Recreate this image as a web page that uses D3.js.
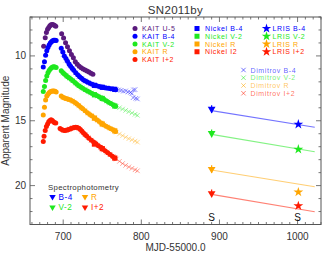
<!DOCTYPE html>
<html><head><meta charset="utf-8">
<script src="https://cdn.jsdelivr.net/npm/d3@7"></script>
<style>body{margin:0;background:#fff}svg{display:block;font-family:"Liberation Sans",Arial,sans-serif}</style>
</head><body><svg id="c" width="334" height="259"></svg>
<script>
// ---------- data ----------
const kaitU = [[675,9.25],[677,8.6],[678.5,8.2],[680,7.95],[681.5,7.8],[683,7.68],[684.5,7.6],[686,7.57],[687.5,7.6],[689,7.65],[690.5,7.72],[698,8.3],[700.5,8.62],[703,8.98],[705.5,9.3],[708,9.6],[710.5,9.9],[713,10.15],[715.5,10.45],[718,10.65],[720.5,10.8],[723,10.92],[725.5,11.0],[728,11.08],[730.5,11.17],[733,11.25],[735.5,11.33],[738,11.42]];
const kaitB = [[674.5,10.85],[676,10.45],[677.5,9.95],[679,9.6],[680.5,9.35],[682,9.15],[683.5,9.0],[685,8.9],[686.5,8.84],[688,8.8],[689.5,8.8],[691,8.82],[697.5,9.4],[699.5,9.7],[701.5,10.0],[703.5,10.2],[705.5,10.42],[707.5,10.62],[709.5,10.8],[711.5,10.95],[713.5,11.1],[716,11.3],[718.5,11.45],[721,11.6],[723.5,11.73],[726,11.85],[728.5,11.94],[731,12.02],[734,12.1],[737,12.18],[740,12.26],[743,12.31],[746,12.36],[749,12.4],[752,12.44],[755,12.47],[758,12.5],[761,12.53],[764,12.56],[767,12.6]];
const kaitV = [[674.5,12.75],[676,12.35],[677.5,11.9],[679,11.55],[680.5,11.3],[682,11.12],[683.5,11.0],[685,10.92],[686.5,10.86],[688,10.84],[689.5,10.86],[691,10.9],[697.5,11.15],[699.5,11.28],[701.5,11.4],[703.5,11.5],[705.5,11.6],[707.5,11.68],[710,11.8],[712.5,11.92],[715,12.05],[717.5,12.18],[720,12.3],[722.5,12.4],[725,12.5],[728,12.6],[731,12.7],[734,12.8],[737,12.9],[740,12.98],[743,13.06],[746,13.14],[749,13.24],[752,13.34],[755,13.45],[758,13.57],[761,13.67],[764,13.77],[767,13.88]];
const kaitR = [[674.5,14.55],[676,13.95],[677.5,13.4],[679,13.1],[680.5,12.95],[682,12.85],[683.5,12.77],[685,12.72],[686.5,12.7],[688,12.7],[689.5,12.73],[691,12.78],[697.5,13.1],[699.5,13.18],[701.5,13.24],[703.5,13.28],[705.5,13.32],[707.5,13.36],[710,13.42],[712.5,13.5],[715,13.6],[717.5,13.7],[720,13.82],[722.5,13.95],[725,14.08],[728,14.22],[731,14.38],[734,14.52],[737,14.64],[740,14.78],[743,14.92],[746,15.06],[749,15.2],[752,15.32],[755,15.43],[758,15.53],[761,15.62],[764,15.7],[767,15.82]];
const kaitI = [[674.5,16.6],[675.5,16.2],[677,15.75],[678.5,15.45],[680,15.25],[681.5,15.08],[683,14.98],[684.5,14.93],[686,14.98],[687.5,15.08],[689,15.15],[690.5,15.18],[696,15.6],[698,15.68],[700,15.74],[702,15.76],[704,15.74],[706,15.7],[708,15.65],[710,15.6],[712,15.55],[714,15.52],[716,15.5],[718,15.52],[720,15.58],[722,15.68],[724,15.8],[726,15.94],[728,16.06],[730,16.18],[733,16.35],[736,16.5],[739,16.64],[742,16.78],[745,16.92],[748,17.05],[751,17.2],[754,17.33],[757,17.47],[760,17.6],[763,17.74],[766,17.88]];

const nickelB = [[740,12.27],[750,12.42],[766,12.58]];
const nickelV = [[740,13.0],[750,13.28],[766,13.86]];
const nickelR = [[740,14.8],[750,15.25],[766,15.78]];
const nickelI = [[740,16.8],[750,17.15],[766,17.88]];

const dimB = [[700,9.9],[704,10.33],[708,10.7],[712,11.0],[716,11.3],[720,11.55],[724,11.78],[728,11.95],[732,12.07],[736,12.17],[740,12.27],[744,12.33],[748,12.4],[752,12.45],[756,12.48],[760,12.52],[764,12.55],[768,12.6],[771,12.62],[774,12.66],[777,12.72],[780,12.7],[783,12.78],[786,12.82],[788,12.9],[790,12.62],[789.5,13.22],[792,12.6],[793,13.27],[795,13.32]];
const dimV = [[700,11.33],[704,11.55],[708,11.72],[712,11.9],[716,12.1],[720,12.3],[724,12.47],[728,12.6],[732,12.74],[736,12.86],[740,12.98],[744,13.1],[748,13.2],[752,13.35],[756,13.48],[760,13.63],[764,13.78],[768,13.9],[772,14.0],[776,14.1],[780,14.2],[784,14.3],[788,14.4],[792,14.5],[795,14.58]];
const dimR = [[700,13.2],[704,13.28],[708,13.36],[712,13.48],[716,13.65],[720,13.82],[724,14.02],[728,14.22],[732,14.43],[736,14.6],[740,14.78],[744,14.97],[748,15.15],[752,15.32],[756,15.47],[760,15.6],[764,15.72],[768,15.88],[772,16.02],[776,16.15],[780,16.27],[784,16.38],[788,16.47],[792,16.57],[795,16.65]];
const dimI = [[700,15.74],[704,15.74],[708,15.65],[712,15.55],[716,15.5],[720,15.58],[724,15.8],[728,16.06],[732,16.3],[736,16.5],[740,16.7],[744,16.88],[748,17.05],[752,17.25],[756,17.42],[760,17.6],[764,17.78],[768,17.95],[772,18.13],[776,18.3],[780,18.44],[784,18.56],[788,18.67],[792,18.78],[795,18.86]];

const specMJD = 890;
const specMag = [14.1, 15.97, 18.73, 20.6];   // B-4, V-2, R, I+2
const specErr = [0.3, 0.3, 0.3, 0.3];
const lrisMJD = 1001;
const lrisMag = [15.27, 17.2, 20.5, 21.56];
const lrisErr = [0.12, 0.12, 0.1, 0.12];
const lineMJD = [890, 1022];
const lineMag = [[14.22, 15.5], [16.05, 17.39], [18.8, 20.09], [20.68, 22.02]];
const sLabelMJD = [890, 1000];

const xTicks = [700, 800, 900, 1000];
const yTicks = [10, 15, 20];

const colors = {U:"#5a1a7d", B:"#0000ff", V:"#1ee81e", R:"#ffa500", I:"#ff1a00"};
const bandColors = [colors.B, colors.V, colors.R, colors.I];

// ---------- chart ----------
const svg = d3.select("#c");
const L = 30, R = 321, T = 17, B = 224.5;
const x = d3.scaleLinear().domain([657.5, 1030]).range([L, R]);
const y = d3.scaleLinear().domain([7, 23]).range([T, B]);
const axisCol = "#555", textCol = "#333";

svg.append("rect").attr("x", L).attr("y", T).attr("width", R - L).attr("height", B - T)
  .attr("fill", "none").attr("stroke", axisCol).attr("stroke-width", 1);

const xMinor = d3.range(660, 1031, 10);
const yMinor = d3.range(7, 23.01, 1);
const tg = svg.append("g").attr("stroke", axisCol).attr("stroke-width", 0.8);
xMinor.forEach(v => {
  const major = v % 100 === 0; const len = major ? 5 : 2.5;
  tg.append("line").attr("x1", x(v)).attr("x2", x(v)).attr("y1", B).attr("y2", B - len);
  tg.append("line").attr("x1", x(v)).attr("x2", x(v)).attr("y1", T).attr("y2", T + len);
});
yMinor.forEach(v => {
  const major = v % 5 === 0; const len = major ? 5 : 2.5;
  tg.append("line").attr("y1", y(v)).attr("y2", y(v)).attr("x1", L).attr("x2", L + len);
  tg.append("line").attr("y1", y(v)).attr("y2", y(v)).attr("x1", R).attr("x2", R - len);
});
svg.append("g").selectAll("text").data(xTicks).join("text")
  .attr("x", d => x(d)).attr("y", 240).attr("text-anchor", "middle")
  .attr("font-size", 10).attr("fill", textCol).text(d => d);
svg.append("g").selectAll("text").data(yTicks).join("text")
  .attr("x", 26).attr("y", d => y(d) + 3.5).attr("text-anchor", "end")
  .attr("font-size", 10).attr("fill", textCol).text(d => d);

svg.append("text").attr("x", (L + R) / 2).attr("y", 13.5).attr("text-anchor", "middle")
  .attr("font-size", 11.5).attr("fill", textCol).attr("letter-spacing", 0.3).text("SN2011by");
svg.append("text").attr("x", (L + R) / 2).attr("y", 251).attr("text-anchor", "middle")
  .attr("font-size", 10).attr("fill", textCol).text("MJD-55000.0");
svg.append("text").attr("transform", `translate(9,${(T + B) / 2}) rotate(-90)`).attr("text-anchor", "middle")
  .attr("font-size", 10).attr("fill", textCol).text("Apparent Magnitude");

const plot = svg.append("g");

lineMag.forEach((m, i) => {
  plot.append("line").attr("x1", x(lineMJD[0])).attr("y1", y(m[0]))
    .attr("x2", x(lineMJD[1])).attr("y2", y(m[1]))
    .attr("stroke", bandColors[i]).attr("stroke-opacity", 0.55).attr("stroke-width", 1.1);
});

function crosses(data, col) {
  const g = plot.append("g").attr("stroke", col).attr("stroke-opacity", 0.45).attr("stroke-width", 0.9);
  const s = 2.3;
  data.forEach(d => {
    const cx = x(d[0]), cy = y(d[1]);
    g.append("line").attr("x1", cx - s).attr("y1", cy - s).attr("x2", cx + s).attr("y2", cy + s);
    g.append("line").attr("x1", cx - s).attr("y1", cy + s).attr("x2", cx + s).attr("y2", cy - s);
  });
}
crosses(dimB, colors.B); crosses(dimV, colors.V); crosses(dimR, colors.R); crosses(dimI, colors.I);

function circles(data, col) {
  plot.append("g").selectAll("circle").data(data).join("circle")
    .attr("cx", d => x(d[0])).attr("cy", d => y(d[1])).attr("r", 2.5).attr("fill", col);
}
circles(kaitU, colors.U); circles(kaitB, colors.B); circles(kaitV, colors.V); circles(kaitR, colors.R); circles(kaitI, colors.I);

function squares(data, col) {
  plot.append("g").selectAll("rect").data(data).join("rect")
    .attr("x", d => x(d[0]) - 2.6).attr("y", d => y(d[1]) - 2.6).attr("width", 5.2).attr("height", 5.2).attr("fill", col);
}
squares(nickelB, colors.B); squares(nickelV, colors.V); squares(nickelR, colors.R); squares(nickelI, colors.I);

const triDown = d3.symbol().type(d3.symbolTriangle).size(26);
specMag.forEach((m, i) => {
  plot.append("line").attr("x1", x(specMJD)).attr("x2", x(specMJD))
    .attr("y1", y(m - specErr[i])).attr("y2", y(m + specErr[i]))
    .attr("stroke", bandColors[i]).attr("stroke-width", 1.2);
  plot.append("path").attr("d", triDown()).attr("fill", bandColors[i])
    .attr("transform", `translate(${x(specMJD)},${y(m)}) rotate(180)`);
});
const star = d3.symbol().type(d3.symbolStar).size(30);
lrisMag.forEach((m, i) => {
  plot.append("line").attr("x1", x(lrisMJD)).attr("x2", x(lrisMJD))
    .attr("y1", y(m - lrisErr[i])).attr("y2", y(m + lrisErr[i]))
    .attr("stroke", bandColors[i]).attr("stroke-width", 1);
  plot.append("path").attr("d", star()).attr("fill", bandColors[i])
    .attr("transform", `translate(${x(lrisMJD)},${y(m)})`);
});
svg.append("g").selectAll("text").data(sLabelMJD).join("text")
  .attr("x", d => x(d)).attr("y", 221).attr("text-anchor", "middle")
  .attr("font-size", 10).attr("fill", "#111").text("S");

// ---------- legends ----------
const lf = 7, ls = 0.6;
const kaitLeg = [["KAIT U-5", colors.U], ["KAIT B-4", colors.B], ["KAIT V-2", colors.V], ["KAIT R", colors.R], ["KAIT I+2", colors.I]];
const nickLeg = [["Nickel B-4", colors.B], ["Nickel V-2", colors.V], ["Nickel R", colors.R], ["Nickel I2", colors.I]];
const lrisLeg = [["LRIS B-4", colors.B], ["LRIS V-2", colors.V], ["LRIS R", colors.R], ["LRIS I+2", colors.I]];
const dimLeg = [["Dimitrov B-4", colors.B], ["Dimitrov V-2", colors.V], ["Dimitrov R", colors.R], ["Dimitrov I+2", colors.I]];
const rowH = 7.75, row0 = 28.5;
const leg = svg.append("g").attr("font-size", lf).attr("letter-spacing", ls);
kaitLeg.forEach((d, i) => {
  const yy = row0 + i * rowH;
  leg.append("circle").attr("cx", 135).attr("cy", yy).attr("r", 2.5).attr("fill", d[1]);
  leg.append("text").attr("x", 142).attr("y", yy + 2.6).attr("fill", d[1]).text(d[0]);
});
nickLeg.forEach((d, i) => {
  const yy = row0 + i * rowH;
  leg.append("rect").attr("x", 194.5).attr("y", yy - 2.5).attr("width", 5).attr("height", 5).attr("fill", d[1]);
  leg.append("text").attr("x", 205).attr("y", yy + 2.6).attr("fill", d[1]).text(d[0]);
});
lrisLeg.forEach((d, i) => {
  const yy = row0 + i * rowH;
  leg.append("path").attr("d", d3.symbol().type(d3.symbolStar).size(28)()).attr("fill", d[1])
    .attr("transform", `translate(266.5,${yy})`);
  leg.append("text").attr("x", 272.5).attr("y", yy + 2.6).attr("fill", d[1]).text(d[0]);
});
dimLeg.forEach((d, i) => {
  const yy = 70 + i * rowH, s = 2.2;
  const g = leg.append("g").attr("stroke", d[1]).attr("stroke-opacity", 0.6).attr("stroke-width", 0.9);
  g.append("line").attr("x1", 243.5 - s).attr("y1", yy - s).attr("x2", 243.5 + s).attr("y2", yy + s);
  g.append("line").attr("x1", 243.5 - s).attr("y1", yy + s).attr("x2", 243.5 + s).attr("y2", yy - s);
  leg.append("text").attr("x", 250.5).attr("y", yy + 2.6).attr("fill", d[1]).attr("fill-opacity", 0.65).text(d[0]);
});
leg.append("text").attr("x", 48).attr("y", 189.5).attr("fill", textCol).attr("letter-spacing", 0.3).attr("font-size", 7.8).text("Spectrophotometry");
const spLeg = [["B-4", colors.B, 52.5, 196.8], ["R", colors.R, 85, 196.8], ["V-2", colors.V, 52.5, 207.3], ["I+2", colors.I, 85, 207.3]];
spLeg.forEach(d => {
  leg.append("path").attr("d", d3.symbol().type(d3.symbolTriangle).size(18)()).attr("fill", d[1])
    .attr("transform", `translate(${d[2]},${d[3]}) rotate(180)`);
  leg.append("text").attr("x", d[2] + 6).attr("y", d[3] + 3).attr("font-size", 8.2).attr("letter-spacing", 0.5)
    .attr("fill", d[1]).text(d[0]);
});
</script></body></html>
